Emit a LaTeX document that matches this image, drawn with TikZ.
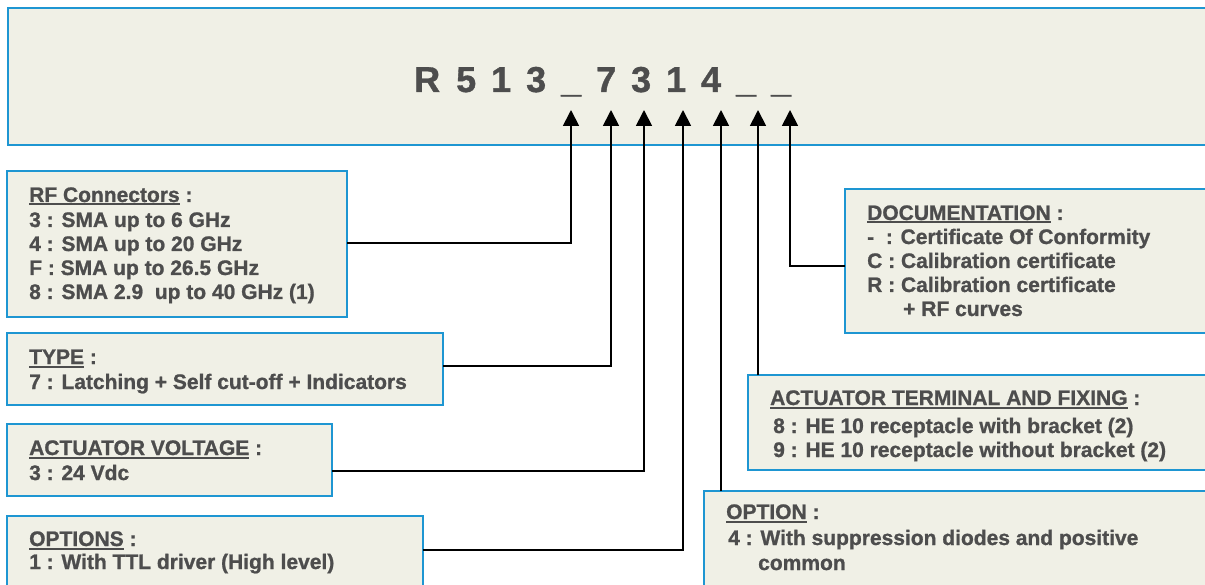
\documentclass[tikz,border=0pt]{standalone}
\usepackage{fontspec}
\setmainfont{Liberation Sans}[BoldFont={Liberation Sans Bold},BoldFeatures={FakeBold=1}]
\usetikzlibrary{arrows.meta}
\definecolor{boxblue}{HTML}{1E96D2}
\definecolor{boxfill}{HTML}{F0F0E6}
\definecolor{txtgray}{HTML}{4D4D4D}
\newcommand{\hdr}[1]{\setbox0\hbox{#1}\rlap{\color{txtgray}\rule[-3.5pt]{\wd0}{2pt}}\box0}
\newcommand{\tc}[2]{\makebox[#1pt][l]{#2}}
\tikzset{
  box/.style={draw=boxblue, fill=boxfill, line width=2.5pt, anchor=north west, inner sep=0pt, outer sep=0pt},
  lbl/.style={anchor=base west, inner sep=0pt, text=txtgray, font=\bfseries\fontsize{21}{24}\selectfont},
  ttl/.style={anchor=base west, inner sep=0pt, text=txtgray, font=\bfseries\fontsize{36}{40}\selectfont},
  conn/.style={draw=black, line width=1.8pt},
  arr/.style={conn, -{Triangle[width=16pt,length=16pt]}},
}
\begin{document}
\begin{tikzpicture}[x=1pt,y=-1pt]
\useasboundingbox (0,0) rectangle (1205,585);
\clip (0,0) rectangle (1205,585);
% boxes
\node[box, minimum width=1215pt, minimum height=137pt] (top) at (8,8) {};
\node[box, minimum width=340pt, minimum height=146pt] (rf) at (7,171) {};
\node[box, minimum width=436pt, minimum height=72pt] (type) at (7,333) {};
\node[box, minimum width=325pt, minimum height=72pt] (volt) at (7,424) {};
\node[box, minimum width=416pt, minimum height=90pt] (opts) at (7,516) {};
\node[box, minimum width=520pt, minimum height=110pt] (opt) at (704,491) {};
\node[box, minimum width=475pt, minimum height=95pt] (term) at (748,375) {};
\node[box, minimum width=380pt, minimum height=144pt] (doc) at (845,189) {};
% title
\node[ttl] (title) at (414,92) {\tc{42}{R}\tc{35}{5}\tc{35}{1}\tc{35}{3}\tc{35}{\_}\tc{35}{7}\tc{35}{3}\tc{35}{1}\tc{35}{4}\tc{35}{\_}\tc{35}{\_}};
% RF
\node[lbl] (rf0) at (29,202) {\hdr{RF Connectors}\ :};
\node[lbl] (rf1) at (29,227) {3 : SMA up to 6 GHz};
\node[lbl] (rf2) at (29,251) {4 : SMA up to 20 GHz};
\node[lbl] (rf3) at (29,275) {F : SMA up to 26.5 GHz};
\node[lbl] (rf4) at (29,299) {8 : SMA 2.9\ \ up to 40 GHz (1)};
% TYPE
\node[lbl] (ty0) at (29,364) {\hdr{TYPE}\ :};
\node[lbl] (ty1) at (29,389) {7 : Latching + Self cut-off + Indicators};
% VOLTAGE
\node[lbl] (vo0) at (29,455) {\hdr{ACTUATOR VOLTAGE}\ :};
\node[lbl] (vo1) at (29,480) {3 : 24 Vdc};
% OPTIONS
\node[lbl] (os0) at (29,546) {\hdr{OPTIONS}\ :};
\node[lbl] (os1) at (29,569) {1 : With TTL driver (High level)};
% DOCUMENTATION
\node[lbl] (dc0) at (867,220) {\hdr{DOCUMENTATION}\ :};
\node[lbl] (dc1) at (867,244) {-\ \ : Certificate Of Conformity};
\node[lbl] (dc2) at (867,268) {C : Calibration certificate};
\node[lbl] (dc3) at (867,292) {R : Calibration certificate};
\node[lbl] (dc4) at (903,316) {+ RF curves};
% TERMINAL
\node[lbl] (te0) at (770,405) {\hdr{ACTUATOR TERMINAL AND FIXING}\ :};
\node[lbl] (te1) at (773,433) {8 : HE 10 receptacle with bracket (2)};
\node[lbl] (te2) at (773,457) {9 : HE 10 receptacle without bracket (2)};
% OPTION
\node[lbl] (op0) at (726,519) {\hdr{OPTION}\ :};
\node[lbl] (op1) at (728,545) {4 : With suppression diodes and positive};
\node[lbl] (op2) at (758,570) {common};
% arrow tips and junctions
\coordinate (t1) at (571,110);
\coordinate (t2) at (611,110);
\coordinate (t3) at (644,110);
\coordinate (t4) at (683,110);
\coordinate (t5) at (721,110);
\coordinate (t6) at (758,110);
\coordinate (t7) at (790,110);
\coordinate (j1) at (571,243);
\coordinate (j2) at (611,366);
\coordinate (j3) at (644,471);
\coordinate (j4) at (683,550);
\coordinate (j7) at (790,266);
% connectors
\draw[arr] (rf.east |- j1) -- (j1) -- (t1);
\draw[arr] (type.east |- j2) -- (j2) -- (t2);
\draw[arr] (volt.east |- j3) -- (j3) -- (t3);
\draw[arr] (opts.east |- j4) -- (j4) -- (t4);
\draw[arr] (opt.north -| t5) -- (t5);
\draw[arr] (term.north -| t6) -- (t6);
\draw[arr] (doc.west |- j7) -- (j7) -- (t7);
\end{tikzpicture}
\end{document}
